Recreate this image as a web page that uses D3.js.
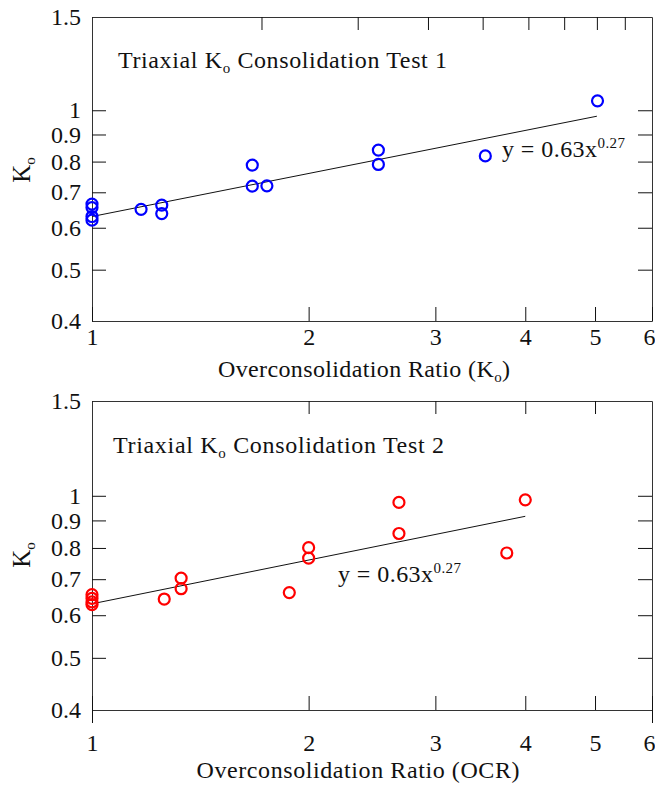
<!DOCTYPE html>
<html>
<head>
<meta charset="utf-8">
<script src="https://cdn.jsdelivr.net/npm/d3@7"></script>
<style>
  body { margin: 0; background: #fff; }
  svg { display: block; }
  text { font-family: "Liberation Serif", "Times New Roman", serif; fill: #111; }
</style>
</head>
<body>
<svg id="chart" width="655" height="787"></svg>
<script>
// test 1 (blue)
var ocr1 = [1, 1, 1, 1, 1.17, 1.25, 1.25, 1.67, 1.67, 1.75, 2.5, 2.5, 3.52, 5.04];
var ko1  = [0.665, 0.655, 0.63, 0.62, 0.65, 0.662, 0.638, 0.788, 0.719, 0.72, 0.841, 0.79, 0.82, 1.042];
// test 2 (red)
var ocr2 = [1, 1, 1, 1, 1.26, 1.33, 1.33, 1.88, 2, 2, 2.67, 2.67, 3.77, 4];
var ko2  = [0.655, 0.645, 0.635, 0.628, 0.643, 0.703, 0.672, 0.661, 0.801, 0.766, 0.972, 0.851, 0.783, 0.983];

// fit y = a * x^b, drawn between these OCR values
var fitA = 0.63, fitB = 0.27;
var fitEnds1 = [1, 5.03];
var fitEnds2 = [1, 4];

var xTicks = [1, 2, 3, 4, 5, 6];
var yTicks = [0.4, 0.5, 0.6, 0.7, 0.8, 0.9, 1, 1.5];
var yTickLabels = ["0.4", "0.5", "0.6", "0.7", "0.8", "0.9", "1", "1.5"];
var topTicks1 = [1.72, 2.34, 2.93, 3.49, 4.04, 4.53, 5.03, 5.5];
var topTicks2 = [2, 3, 4, 5];

var svg = d3.select("#chart");

function panel(o) {
  var x = d3.scaleLog().domain([1, 6]).range([92, 652]);
  var y = d3.scaleLog().domain([0.4, 1.5]).range([o.bottom, o.top]);
  var g = svg.append("g");

  // left axis with labels
  g.append("g")
      .attr("transform", "translate(92,0)")
      .call(d3.axisLeft(y).tickValues(yTicks).tickSizeInner(-14).tickSizeOuter(0).tickPadding(11)
        .tickFormat(function(d, i) { return yTickLabels[i]; }));
  // right axis, ticks only
  g.append("g")
      .attr("transform", "translate(652,0)")
      .call(d3.axisRight(y).tickValues(yTicks).tickSizeInner(-14).tickSizeOuter(0).tickFormat(""));
  // bottom axis
  var bx = g.append("g")
      .attr("transform", "translate(0," + o.bottom + ")")
      .call(d3.axisBottom(x).tickValues(xTicks).tickSizeInner(-14).tickSizeOuter(0).tickPadding(o.xPad)
        .tickFormat(d3.format("d")));
  // last label sits on the page edge
  bx.selectAll(".tick text").filter(function(d) { return d == 6; })
      .attr("text-anchor", "end").attr("x", 3);
  // top axis, ticks only
  g.append("g")
      .attr("transform", "translate(0," + o.top + ")")
      .call(d3.axisTop(x).tickValues(o.topTicks).tickSizeInner(-13).tickSizeOuter(0).tickFormat(""));

  if (o.outTicks) {
    g.append("g")
        .attr("transform", "translate(0," + o.bottom + ")")
        .call(d3.axisBottom(x).tickValues([1, 6]).tickSizeInner(13).tickSizeOuter(0).tickFormat(""))
        .select(".domain").remove();
  }

  g.selectAll(".domain").attr("stroke", "#333");
  g.selectAll(".tick line").attr("stroke", "#111");
  g.selectAll(".tick text").style("font-size", "24px").attr("fill", "#111");

  // fit line
  var ends = o.fitEnds.map(function(v) { return [v, fitA * Math.pow(v, fitB)]; });
  g.append("path")
      .attr("d", d3.line().x(function(d) { return x(d[0]); }).y(function(d) { return y(d[1]); })(ends))
      .attr("fill", "none")
      .attr("stroke", "#111")
      .attr("stroke-width", 1);

  // points
  g.selectAll(".pt")
    .data(o.xs)
    .enter().append("circle")
      .attr("class", "pt")
      .attr("cx", function(d) { return x(d); })
      .attr("cy", function(d, i) { return y(o.ys[i]); })
      .attr("r", 5.5)
      .attr("fill", "none")
      .attr("stroke", o.color)
      .attr("stroke-width", 2.2);

  // title
  var t = g.append("text")
      .attr("x", o.titleX).attr("y", o.titleY)
      .attr("textLength", o.titleW).attr("lengthAdjust", "spacing")
      .style("font-size", "24px");
  t.append("tspan").text("Triaxial K");
  t.append("tspan").attr("dy", 5).style("font-size", "15px").text("o");
  t.append("tspan").attr("dy", -5).text(" Consolidation Test " + o.num);

  // equation
  var e = g.append("text")
      .attr("x", o.eqX).attr("y", o.eqY)
      .attr("textLength", 123).attr("lengthAdjust", "spacing")
      .style("font-size", "24px");
  e.append("tspan").text("y = 0.63x");
  e.append("tspan").attr("dy", -9).style("font-size", "15px").text("0.27");

  // y label
  var yl = g.append("text")
      .attr("transform", "translate(30," + o.yLabelY + ") rotate(-90)")
      .attr("text-anchor", "middle")
      .style("font-size", "25px");
  yl.append("tspan").text("K");
  yl.append("tspan").attr("dy", 5).style("font-size", "15px").text("o");

  // x label
  var xl = g.append("text")
      .attr("x", o.xLabelX).attr("y", o.xLabelY)
      .attr("text-anchor", "middle")
      .attr("textLength", o.xLabelW).attr("lengthAdjust", "spacing")
      .style("font-size", "24px");
  if (o.num == 1) {
    xl.append("tspan").text("Overconsolidation Ratio (K");
    xl.append("tspan").attr("dy", 5).style("font-size", "15px").text("o");
    xl.append("tspan").attr("dy", -5).text(")");
  } else {
    xl.append("tspan").text("Overconsolidation Ratio (OCR)");
  }
}

panel({
  num: 1, top: 17, bottom: 321, xs: ocr1, ys: ko1, color: "#0000ff",
  fitEnds: fitEnds1, topTicks: topTicks1, xPad: 7, outTicks: false,
  titleX: 118, titleY: 68, titleW: 329,
  eqX: 502, eqY: 157,
  yLabelY: 170,
  xLabelX: 364, xLabelY: 377, xLabelW: 292
});

panel({
  num: 2, top: 401, bottom: 710, xs: ocr2, ys: ko2, color: "#ff0000",
  fitEnds: fitEnds2, topTicks: topTicks2, xPad: 24, outTicks: true,
  titleX: 113, titleY: 453, titleW: 331,
  eqX: 338, eqY: 582,
  yLabelY: 555,
  xLabelX: 358, xLabelY: 778, xLabelW: 323
});
</script>
</body>
</html>
